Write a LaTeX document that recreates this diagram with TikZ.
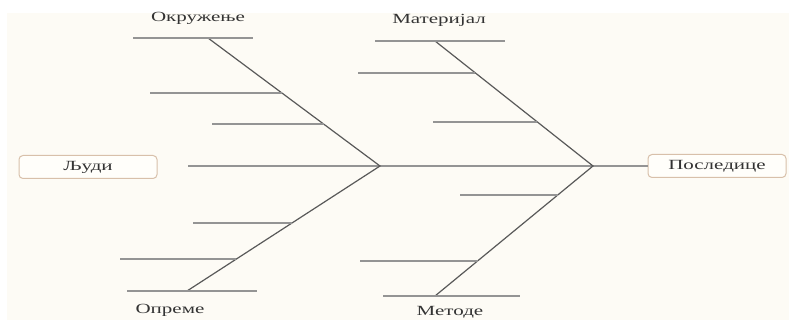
\documentclass[tikz,border=0pt]{standalone}
\usepackage{fontspec}
\newfontfamily\fishfont{Liberation Serif}[FakeStretch=1.5]
\usetikzlibrary{calc}

\definecolor{paper}{RGB}{253,251,245}
\definecolor{boxline}{RGB}{216,192,170}
\definecolor{boxfill}{RGB}{255,254,250}

\begin{document}
\begin{tikzpicture}[
    x=1pt, y=-1pt,
    font=\fishfont\fontsize{14}{16}\selectfont,
    text=black!80,
    bone/.style={draw=black!65, line width=1.2pt},
    rib/.style={draw=black!42, line width=1.5pt},
    cause/.style={draw=boxline, fill=boxfill, rounded corners=4pt, line width=1pt, minimum width=138pt, minimum height=23pt, inner sep=0pt},
    head/.style={inner sep=0pt}
]
  \useasboundingbox (0,0) rectangle (789,320);
  \fill[paper] (7,13) rectangle (789,320);

  % joints and bone ends
  \coordinate (tail) at (188,166);
  \coordinate (j1) at (380,166);
  \coordinate (j2) at (593,166);
  \coordinate (envtop) at (208,38);
  \coordinate (eqbot) at (187,291);
  \coordinate (mattop) at (435,41);
  \coordinate (metbot) at (435,296);

  \node[cause] (people) at (88,167) {Људи};
  \node[cause] (effect) at (717,166) {Последице};

  \node[head] (env) at (198,18) {Окружење};
  \node[head] (mat) at (439,20) {Материјал};
  \node[head] (equip) at (170,310) {Опреме};
  \node[head] (meth) at (450,312) {Методе};

  % spine and bones
  \draw[rib] (tail) -- (effect.west);
  \draw[bone] (envtop) -- (j1) -- (eqbot);
  \draw[bone] (mattop) -- (j2) -- (metbot);

  % top and bottom bars
  \draw[rib] ($(envtop)+(-75,0)$) -- ($(envtop)+(45,0)$);
  \draw[rib] ($(eqbot)+(-60,0)$) -- ($(eqbot)+(70,0)$);
  \draw[rib] ($(mattop)+(-60,0)$) -- ($(mattop)+(70,0)$);
  \draw[rib] ($(metbot)+(-52,0)$) -- ($(metbot)+(85,0)$);

  % ribs
  \foreach \t/\len in {0.43/132, 0.672/112}
    \draw[rib] ($(envtop)!\t!(j1)$) -- +(-\len,0);
  \foreach \t/\len in {0.456/99, 0.744/116}
    \draw[rib] ($(j1)!\t!(eqbot)$) -- +(-\len,0);
  \foreach \t/\len in {0.256/117, 0.648/104}
    \draw[rib] ($(mattop)!\t!(j2)$) -- +(-\len,0);
  \foreach \t/\len in {0.223/98, 0.731/118}
    \draw[rib] ($(j2)!\t!(metbot)$) -- +(-\len,0);
\end{tikzpicture}
\end{document}
